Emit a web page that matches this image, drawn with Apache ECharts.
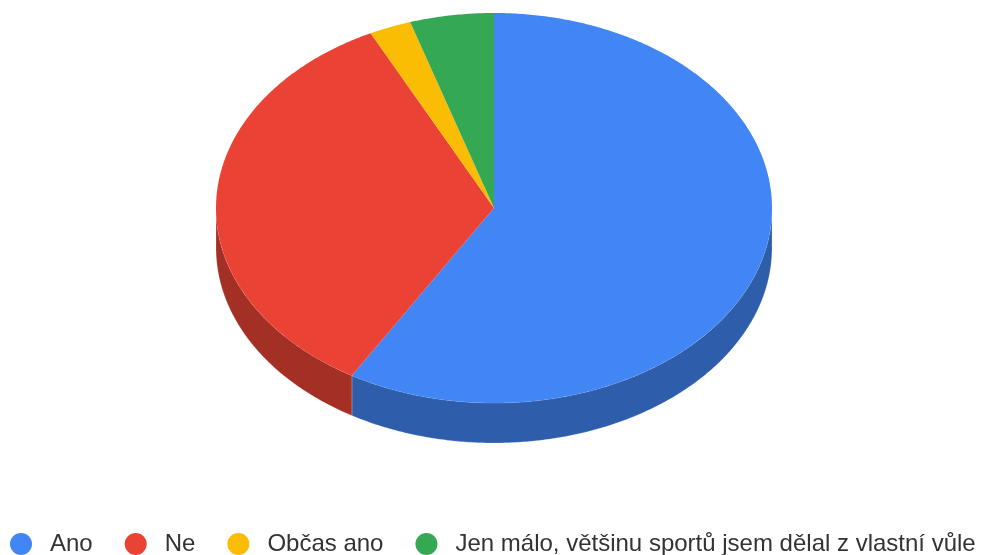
<!DOCTYPE html>
<html>
<head>
<meta charset="utf-8">
<script src="https://cdn.jsdelivr.net/npm/echarts@6/dist/echarts.min.js"></script>
<style>
  html, body { margin: 0; padding: 0; background: #ffffff; }
  #chart { width: 981px; height: 555px; }
</style>
</head>
<body>
<div id="chart"></div>
<script>
// Survey answers and their response counts
const categories = ['Ano', 'Ne', 'Občas ano', 'Jen málo, většinu sportů jsem dělal z vlastní vůle'];
const counts = [24, 14, 1, 2];

// Slice colours: top face and darker side wall
const topColors = ['#4285f4', '#ea4335', '#fbbc04', '#34a853'];
const sideColors = ['#2e5dab', '#a42f25', '#b08403', '#24763a'];

// Tilted-pie geometry
const pie = { cx: 494, cy: 208, rx: 278, ry: 195, depth: 40 };

const total = counts.reduce((a, b) => a + b, 0);

function point(deg, dy) {
  const r = deg * Math.PI / 180;
  return [pie.cx + pie.rx * Math.sin(r), pie.cy - pie.ry * Math.cos(r) + dy];
}

function arc(a0, a1, dy) {
  const pts = [];
  const n = Math.max(2, Math.ceil(Math.abs(a1 - a0) / 0.5));
  for (let k = 0; k <= n; k++) pts.push(point(a0 + (a1 - a0) * k / n, dy));
  return pts;
}

function sliceRenderer(idx) {
  return function (params, api) {
    let before = 0;
    for (let i = 0; i < idx; i++) before += counts[i];
    const v = api.value(0);
    const a0 = before / total * 360;
    const a1 = (before + v) / total * 360;
    const children = [];
    // visible wall: front half of the ellipse (90°..270° clockwise from top)
    const s0 = Math.max(a0, 90), s1 = Math.min(a1, 270);
    if (s1 > s0) {
      const pts = arc(s0, s1, 0).concat(arc(s1, s0, pie.depth));
      children.push({
        type: 'polygon',
        shape: { points: pts },
        style: { fill: sideColors[idx], stroke: 'rgba(255,255,255,0.25)', lineWidth: 0.8 }
      });
    }
    const top = [[pie.cx, pie.cy]].concat(arc(a0, a1, 0));
    children.push({
      type: 'polygon',
      shape: { points: top },
      style: { fill: topColors[idx] }
    });
    return { type: 'group', children: children };
  };
}

const chart = echarts.init(document.getElementById('chart'), null, { renderer: 'canvas' });

chart.setOption({
  animation: false,
  backgroundColor: '#ffffff',
  legend: {
    data: categories,
    orient: 'horizontal',
    left: 10,
    top: 532,
    width: 971,
    padding: 0,
    icon: 'circle',
    itemWidth: 22,
    itemHeight: 22,
    itemGap: 32,
    selectedMode: false,
    textStyle: {
      fontFamily: '"Liberation Sans", Arial, sans-serif',
      fontSize: 24,
      color: '#333333',
      padding: [0, 0, 0, 13]
    }
  },
  series: categories.map((name, i) => ({
    type: 'custom',
    name: name,
    coordinateSystem: 'none',
    silent: true,
    itemStyle: { color: topColors[i] },
    data: [counts[i]],
    renderItem: sliceRenderer(i)
  }))
});
</script>
</body>
</html>
